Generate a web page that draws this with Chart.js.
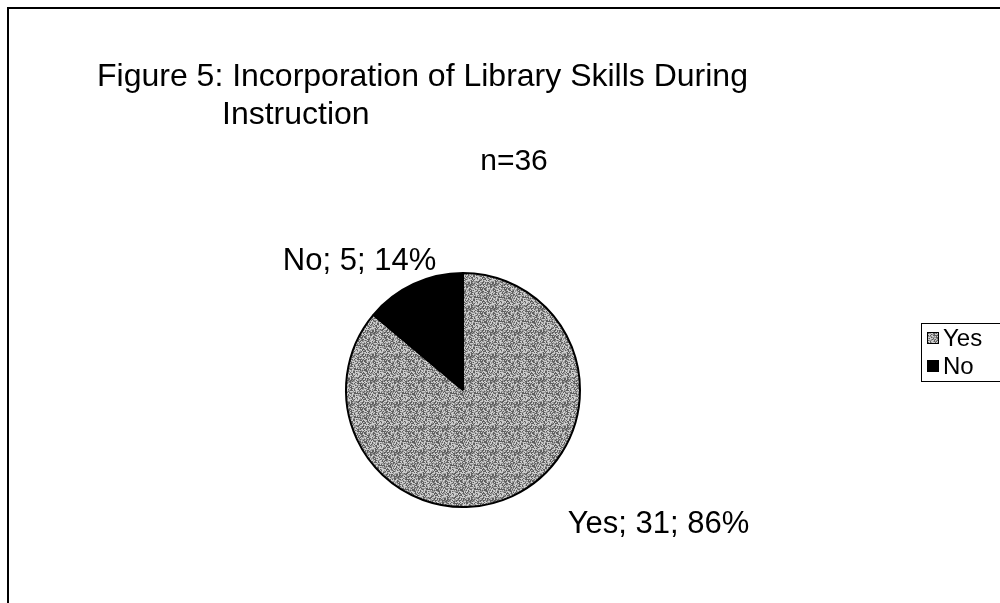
<!DOCTYPE html>
<html><head><meta charset="utf-8">
<script src="https://cdn.jsdelivr.net/npm/chart.js@4/dist/chart.umd.min.js"></script>
<style>html,body{margin:0;padding:0;background:#fff;overflow:hidden}#wrap{width:1000px;height:603px;position:relative}</style>
</head><body><div id="wrap"><canvas id="c" width="1000" height="603"></canvas></div>
<script>
// ---- data ----
const categories = ['Yes', 'No'];
const counts = [31, 5];
const subtitleText = 'n=36';
const titleLines = ['Figure 5: Incorporation of Library Skills During', 'Instruction'];

// ---- styling ----
const FONT = '"Liberation Sans", Arial, sans-serif';

// deterministic stipple texture (hash-based, not data)
function makeStipple() {
  const N = 24;
  const cv = document.createElement('canvas');
  cv.width = N; cv.height = N;
  const g = cv.getContext('2d');
  const img = g.createImageData(N, N);
  for (let y = 0; y < N; y++) for (let x = 0; x < N; x++) {
    let h = (x * 374761393 + y * 668265263) | 0;
    h = Math.imul(h ^ (h >>> 13), 1274126177);
    h = (h ^ (h >>> 16)) >>> 0;
    const t = (h % 1000) / 1000;
    const v = t < 0.33 ? 95 : (t < 0.66 ? 150 : 205);
    const k = (y * N + x) * 4;
    img.data[k] = img.data[k + 1] = img.data[k + 2] = v;
    img.data[k + 3] = 255;
  }
  g.putImageData(img, 0, 0);
  return g.createPattern(cv, 'repeat');
}
const stipple = makeStipple();
const fills = [stipple, '#000000'];

const decorPlugin = {
  id: 'decor',
  afterDraw(chart, args, opts) {
    const ctx = chart.ctx;
    ctx.save();
    // frame (left and top edges)
    ctx.strokeStyle = '#000'; ctx.lineWidth = 2;
    ctx.beginPath();
    ctx.moveTo(8, 603); ctx.lineTo(8, 8); ctx.lineTo(1000, 8);
    ctx.stroke();

    // title
    ctx.fillStyle = '#000';
    ctx.textBaseline = 'alphabetic';
    ctx.font = '32px ' + FONT;
    ctx.textAlign = 'left';
    ctx.fillText(titleLines[0], opts.titleX, opts.titleY);
    ctx.fillText(titleLines[1], opts.title2X, opts.titleY + opts.titleLineGap);
    ctx.font = '30px ' + FONT;
    ctx.textAlign = 'center';
    ctx.fillText(subtitleText, opts.subX, opts.subY);

    // data labels
    const meta = chart.getDatasetMeta(0);
    const total = counts.reduce((a, b) => a + b, 0);
    ctx.font = '31px ' + FONT;
    meta.data.forEach((arc, i) => {
      const p = arc.getProps(['x', 'y', 'startAngle', 'endAngle', 'outerRadius'], true);
      const mid = (p.startAngle + p.endAngle) / 2;
      const ex = p.x + Math.cos(mid) * p.outerRadius;
      const ey = p.y + Math.sin(mid) * p.outerRadius;
      const off = opts.labelOffsets[i];
      const txt = categories[i] + '; ' + counts[i] + '; ' + Math.round(counts[i] / total * 100) + '%';
      ctx.textAlign = 'center';
      ctx.fillText(txt, ex + off[0], ey + off[1]);
    });

    // legend
    const L = opts.legend;
    ctx.lineWidth = 1;
    ctx.strokeStyle = '#000';
    ctx.strokeRect(L.x + 0.5, L.y + 0.5, L.w, L.h);
    ctx.font = L.font + 'px ' + FONT;
    ctx.textAlign = 'left';
    categories.forEach((c, i) => {
      const cy = L.y + L.firstRow + i * L.rowGap;
      ctx.fillStyle = fills[i];
      ctx.fillRect(L.x + 6, cy - 6, 12, 12);
      ctx.strokeRect(L.x + 6.5, cy - 5.5, 11, 11);
      ctx.fillStyle = '#000';
      ctx.textBaseline = 'middle';
      ctx.fillText(c, L.x + 22, cy + 1);
    });
    ctx.restore();
  }
};

new Chart(document.getElementById('c'), {
  type: 'pie',
  data: {
    labels: categories,
    datasets: [{
      data: counts,
      backgroundColor: fills,
      borderColor: '#000',
      borderWidth: 2,
      hoverOffset: 0
    }]
  },
  options: {
    responsive: false,
    animation: false,
    events: [],
    layout: { padding: { left: 345, right: 419, top: 272, bottom: 95 } },
    plugins: {
      legend: { display: false },
      title: { display: false },
      tooltip: { enabled: false },
      decor: {
        titleX: 97, titleY: 86, title2X: 222, titleLineGap: 38,
        subX: 514, subY: 170,
        labelOffsets: [[146, 37], [-54, -14]],
        legend: { x: 921, y: 323, w: 100, h: 58, font: 24, firstRow: 15, rowGap: 28 }
      }
    }
  },
  plugins: [decorPlugin]
});
</script>
</body></html>
